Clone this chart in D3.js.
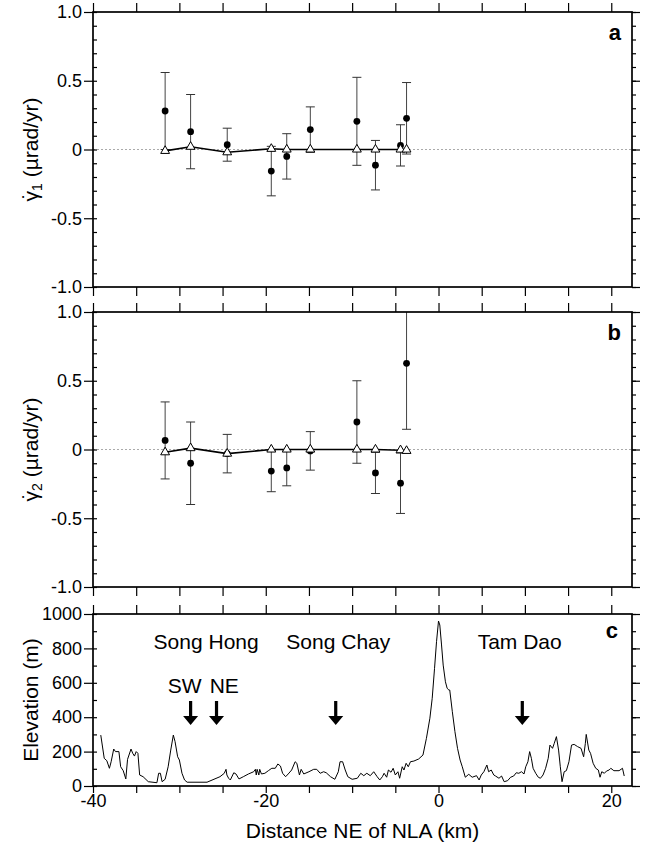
<!doctype html>
<html lang="en">
  <head>
    <meta charset="utf-8">
    <title>Strain rate and elevation across the Red River fault</title>
    <script src="https://d3js.org/d3.v7.min.js"></script>
    <style>
      body { margin: 0; background: #fff; }
      text { font-family: "Liberation Sans", Arial, Helvetica, sans-serif; fill: #000; }
    </style>
  </head>
  <body>
    <div id="holder"></div>
  <script>
    // GPS sites, distance NE of NLA (km)
    const siteKm = [-31.65, -28.7, -24.46, -19.36, -17.57, -14.84, -9.45, -7.3, -4.4, -3.7];

    // panel a: gamma1 observed, 1-sigma and model (urad/yr)
    const gamma1Obs = [0.28, 0.13, 0.035, -0.157, -0.05, 0.145, 0.205, -0.114, 0.03, 0.227];
    const gamma1Err = [0.28, 0.27, 0.12, 0.18, 0.165, 0.165, 0.32, 0.18, 0.15, 0.26];
    const gamma1Model = [-0.01, 0.02, -0.02, 0.005, 0, 0, 0, 0, 0, 0];

    // panel b: gamma2
    const gamma2Obs = [0.066, -0.10, -0.03, -0.157, -0.134, -0.01, 0.2, -0.17, -0.245, 0.627];
    const gamma2Err = [0.28, 0.3, 0.14, 0.15, 0.13, 0.14, 0.3, 0.15, 0.22, 0.48];
    const gamma2Model = [-0.02, 0.01, -0.03, 0, 0, 0, 0, 0, -0.005, -0.01];

    // panel c: topographic profile
    const profileKm = [-39.1, -38.7, -38.4, -38.1, -37.9, -37.6, -37.4, -37.0, -36.8, -36.5, -36.2, -36.0,
      -35.6, -35.4, -35.2, -35.0, -34.8, -34.6, -34.2, -33.6, -32.6, -32.4, -32.2, -32.0, -31.65, -31.3,
      -31.0, -30.7, -30.5, -30.2, -30.0, -29.7, -29.4, -29.1, -26.8, -25.3, -24.8, -24.6, -24.5, -24.3,
      -24.1, -23.7, -23.45, -23.1, -22.6, -22.0, -21.4, -21.2, -21.1, -21.0, -20.8, -20.7, -20.5, -20.1,
      -19.7, -19.3, -18.9, -18.6, -18.3, -18.05, -17.7, -17.4, -17.0, -16.6, -16.4, -16.1, -15.9, -15.6,
      -15.0, -14.45, -14.1, -13.7, -13.3, -13.0, -12.5, -12.0, -11.6, -11.4, -11.1, -10.8, -10.5, -10.0,
      -9.4, -9.0, -8.65, -8.3, -7.9, -7.5, -7.1, -6.8, -6.5, -6.3, -6.0, -5.8, -5.5, -5.25, -5.0, -4.7,
      -4.5, -4.2, -4.0, -3.75, -3.5, -3.25, -2.85, -2.3, -1.8, -1.4, -1.0, -0.73, -0.46, -0.23, 0.0, 0.15,
      0.35, 0.54, 0.8, 1.0, 1.2, 1.3, 1.6, 1.9, 2.2, 2.5, 2.75, 3.1, 3.5, 3.9, 4.4, 4.7, 4.95, 5.25, 5.6,
      5.8, 6.1, 6.4, 6.6, 7.0, 7.3, 7.6, 8.0, 8.35, 8.7, 9.0, 9.3, 9.6, 9.9, 10.1, 10.35, 10.55, 10.75,
      10.95, 11.25, 11.55, 11.8, 12.1, 12.4, 12.7, 12.9, 13.2, 13.4, 13.65, 13.9, 14.1, 14.3, 14.55, 14.8,
      15.1, 15.4, 15.7, 16.1, 16.5, 16.8, 17.0, 17.1, 17.4, 17.6, 17.9, 18.2, 18.5, 18.7, 18.9, 19.2,
      19.45, 19.75, 19.95, 20.3, 20.9, 21.3, 21.5];
    const profileElev = [296, 161, 147, 103, 141, 215, 200, 200, 112, 89, 41, 155,
      215, 190, 174, 200, 190, 64, 54, 25, 19, 74, 74, 25, 39, 112,
      209, 296, 258, 170, 151, 74, 35, 22, 22, 54, 74, 97, 64, 45,
      35, 77, 70, 41, 54, 70, 83, 97, 64, 97, 64, 97, 70, 74,
      89, 103, 103, 128, 116, 74, 54, 70, 93, 141, 132, 64, 97, 70,
      83, 97, 97, 74, 83, 77, 54, 39, 83, 141, 141, 93, 54, 39,
      45, 74, 60, 74, 60, 83, 54, 35, 54, 74, 51, 93, 80, 103, 64, 83,
      45, 112, 93, 132, 112, 141, 145, 157, 180, 277, 394, 510, 684, 839, 959, 936,
      820, 703, 606, 568, 558, 558, 432, 316, 219, 151, 112, 51, 68, 51, 60, 35, 64, 83, 122,
      83, 93, 64, 58, 45, 58, 25, 31, 51, 58, 77, 74, 83, 70, 112, 141, 200, 161,
      103, 74, 51, 45, 64, 103, 161, 238, 219, 248, 287, 209, 112, 25, 83, 89,
      141, 238, 242, 229, 219, 170, 248, 300, 209, 190, 132, 103, 93, 51, 83, 74,
      87, 93, 103, 89, 89, 103, 58];

    // annotations in panel c
    const arrowKm = [-28.7, -25.7, -11.9, 9.7];
    const placeNames = ['Song Hong', 'Song Chay', 'Tam Dao'];
    const placeKm = [-26.9, -11.6, 9.4];
    const sideNames = ['SW', 'NE'];
    const sideKm = [-29.4, -24.8];

    const strainTicks = [-1, -0.5, 0, 0.5, 1];
    const elevTicks = [0, 200, 400, 600, 800, 1000];
    const distTicks = [-40, -20, 0, 20];

    const w = 645, h = 849;
    const left = 93, right = 632;
    const boxA = {top: 12, bottom: 287};
    const boxB = {top: 312, bottom: 587};
    const boxC = {top: 614, bottom: 786};

    const svg = d3.select('#holder')
      .append('svg')
      .attr('width', w)
      .attr('height', h);

    const x = d3.scaleLinear()
      .domain([-40, 22.4])
      .range([left, right]);

    const strainFmt = function(d) {
      if (d === 0) return '0';
      return (d < 0 ? '-' : '') + d3.format('.1f')(Math.abs(d));
    };

    function styleAxis(sel, fontSize) {
      sel.select('.domain').remove();
      sel.selectAll('.tick line').attr('stroke', '#000').attr('stroke-width', 1.2);
      sel.selectAll('.tick text')
        .attr('font-size', fontSize)
        .attr('font-family', '"Liberation Sans", Arial, sans-serif')
        .attr('fill', '#000');
    }

    // frame, ticks and labels for one panel
    function drawFrame(y, box, major, minor, fmt, xLabels) {
      const g = svg.append('g');

      g.append('g')
        .attr('transform', 'translate(' + left + ',0)')
        .call(d3.axisLeft(y).tickValues(major).tickSize(9).tickPadding(2).tickFormat(fmt))
        .call(styleAxis, 18);
      g.append('g')
        .attr('transform', 'translate(' + left + ',0)')
        .call(d3.axisLeft(y).tickValues(minor).tickSize(-4).tickFormat(''))
        .call(styleAxis, 18);
      g.append('g')
        .attr('transform', 'translate(' + right + ',0)')
        .call(d3.axisRight(y).tickValues(major).tickSize(8).tickFormat(''))
        .call(styleAxis, 18);
      g.append('g')
        .attr('transform', 'translate(' + right + ',0)')
        .call(d3.axisRight(y).tickValues(minor).tickSize(4).tickFormat(''))
        .call(styleAxis, 18);

      const xt = d3.range(-40, 22, 5);
      g.append('g')
        .attr('transform', 'translate(0,' + box.top + ')')
        .call(d3.axisTop(x).tickValues(xt).tickSize(9).tickFormat(''))
        .call(styleAxis, 18);
      const bottom = d3.axisBottom(x).tickValues(xt).tickSize(xLabels ? 7 : 9).tickPadding(1)
        .tickFormat(function(d) { return distTicks.indexOf(d) >= 0 && xLabels ? (d < 0 ? '-' + (-d) : d) : ''; });
      g.append('g')
        .attr('transform', 'translate(0,' + box.bottom + ')')
        .call(bottom)
        .call(styleAxis, 18);

      g.append('rect')
        .attr('x', left)
        .attr('y', box.top)
        .attr('width', right - left)
        .attr('height', box.bottom - box.top)
        .attr('fill', 'none')
        .attr('stroke', '#000')
        .attr('stroke-width', 1.7);
    }

    function strainPanel(box, obs, err, model, sub, letter, clipId) {
      const y = d3.scaleLinear().domain([-1, 1]).range([box.bottom, box.top]);

      svg.append('clipPath').attr('id', clipId)
        .append('rect')
        .attr('x', left).attr('y', box.top)
        .attr('width', right - left).attr('height', box.bottom - box.top);

      const g = svg.append('g').attr('clip-path', 'url(#' + clipId + ')');

      // zero line
      g.append('line')
        .attr('x1', left).attr('x2', right)
        .attr('y1', y(0)).attr('y2', y(0))
        .attr('stroke', '#aaa')
        .attr('stroke-width', 1)
        .attr('stroke-dasharray', '2,2');

      const idx = d3.range(siteKm.length);

      // error bars
      g.selectAll('.err')
        .data(idx)
        .enter().append('line')
        .attr('x1', function(i) { return x(siteKm[i]); })
        .attr('x2', function(i) { return x(siteKm[i]); })
        .attr('y1', function(i) { return y(obs[i] - err[i]); })
        .attr('y2', function(i) { return y(obs[i] + err[i]); })
        .attr('stroke', '#444')
        .attr('stroke-width', 1);
      [-1, 1].forEach(function(s) {
        g.selectAll('.cap' + s)
          .data(idx)
          .enter().append('line')
          .attr('x1', function(i) { return x(siteKm[i]) - 4.5; })
          .attr('x2', function(i) { return x(siteKm[i]) + 4.5; })
          .attr('y1', function(i) { return y(obs[i] + s * err[i]); })
          .attr('y2', function(i) { return y(obs[i] + s * err[i]); })
          .attr('stroke', '#333')
          .attr('stroke-width', 1);
      });

      // model curve
      const line = d3.line()
        .x(function(i) { return x(siteKm[i]); })
        .y(function(i) { return y(model[i]); });
      g.append('path')
        .datum(idx)
        .attr('d', line)
        .attr('fill', 'none')
        .attr('stroke', '#000')
        .attr('stroke-width', 1.6);

      // observations
      g.selectAll('.obs')
        .data(idx)
        .enter().append('circle')
        .attr('cx', function(i) { return x(siteKm[i]); })
        .attr('cy', function(i) { return y(obs[i]); })
        .attr('r', 3.4)
        .attr('fill', '#000');

      // model values
      g.selectAll('.mod')
        .data(idx)
        .enter().append('path')
        .attr('d', d3.symbol().type(d3.symbolTriangle).size(34))
        .attr('transform', function(i) { return 'translate(' + x(siteKm[i]) + ',' + y(model[i]) + ')'; })
        .attr('fill', '#fff')
        .attr('stroke', '#000')
        .attr('stroke-width', 1);

      drawFrame(y, box, strainTicks, d3.range(-10, 11).map(function(d) { return d / 10; }), strainFmt, false);

      // y title: gamma with a dot above, subscript
      const cy = (box.top + box.bottom) / 2;
      const t = svg.append('text')
        .attr('transform', 'translate(38,' + cy + ') rotate(-90)')
        .attr('text-anchor', 'middle')
        .attr('font-size', 21);
      t.append('tspan').text('\u03B3');
      t.append('tspan').attr('dx', -8.5).attr('dy', -1).text('\u02D9');
      t.append('tspan').attr('font-size', 14).attr('dx', 1.5).attr('dy', 5).text(sub);
      t.append('tspan').attr('dy', -4).text(' (\u00B5rad/yr)');

      svg.append('text')
        .attr('x', 621)
        .attr('y', box.top + 28)
        .attr('text-anchor', 'end')
        .attr('font-size', 22)
        .attr('font-weight', 'bold')
        .text(letter);
    }

    strainPanel(boxA, gamma1Obs, gamma1Err, gamma1Model, '1', 'a', 'clipA');
    strainPanel(boxB, gamma2Obs, gamma2Err, gamma2Model, '2', 'b', 'clipB');

    /* ELEVATION */
    const yE = d3.scaleLinear().domain([0, 1000]).range([boxC.bottom, boxC.top]);

    const profile = d3.line()
      .x(function(i) { return x(profileKm[i]); })
      .y(function(i) { return yE(profileElev[i]); });
    svg.append('path')
      .datum(d3.range(profileKm.length))
      .attr('d', profile)
      .attr('fill', 'none')
      .attr('stroke', '#000')
      .attr('stroke-width', 1)
      .attr('stroke-linejoin', 'round');

    // arrows
    svg.selectAll('.arrow')
      .data(arrowKm)
      .enter().append('path')
      .attr('d', function(d) {
        const cx = x(d), top = yE(494), tip = yE(355), base = tip - 9;
        return 'M' + (cx - 1.6) + ',' + top + 'L' + (cx + 1.6) + ',' + top +
          'L' + (cx + 1.6) + ',' + base + 'L' + (cx + 7.5) + ',' + base +
          'L' + cx + ',' + tip + 'L' + (cx - 7.5) + ',' + base +
          'L' + (cx - 1.6) + ',' + base + 'Z';
      })
      .attr('fill', '#000');

    svg.selectAll('.place')
      .data(placeNames)
      .enter().append('text')
      .attr('x', function(d, i) { return x(placeKm[i]); })
      .attr('y', yE(797))
      .attr('text-anchor', 'middle')
      .attr('font-size', 21)
      .text(function(d) { return d; });

    svg.selectAll('.side')
      .data(sideNames)
      .enter().append('text')
      .attr('x', function(d, i) { return x(sideKm[i]); })
      .attr('y', yE(541))
      .attr('text-anchor', 'middle')
      .attr('font-size', 21)
      .text(function(d) { return d; });

    drawFrame(yE, boxC, elevTicks, d3.range(0, 1001, 100), d3.format('d'), true);

    svg.append('text')
      .attr('transform', 'translate(38,' + ((boxC.top + boxC.bottom) / 2) + ') rotate(-90)')
      .attr('text-anchor', 'middle')
      .attr('font-size', 21)
      .text('Elevation (m)');

    svg.append('text')
      .attr('x', 618)
      .attr('y', 638)
      .attr('text-anchor', 'end')
      .attr('font-size', 22)
      .attr('font-weight', 'bold')
      .text('c');

    svg.append('text')
      .attr('x', (left + right) / 2)
      .attr('y', 838)
      .attr('text-anchor', 'middle')
      .attr('font-size', 21)
      .text('Distance NE of NLA (km)');
  </script>
  </body>
</html>
